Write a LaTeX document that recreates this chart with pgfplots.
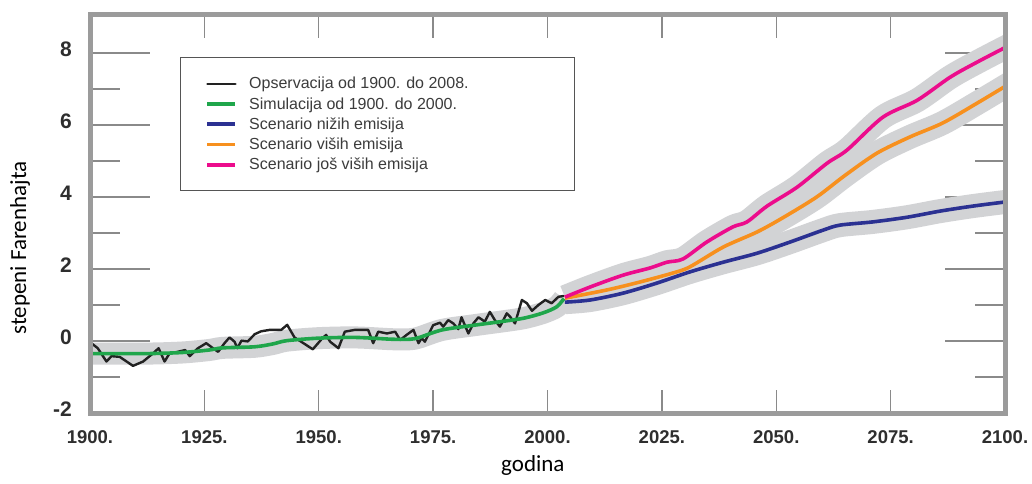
\documentclass[border=0pt]{standalone}
\usepackage{fontspec}
\setmainfont{Liberation Sans}
\newfontfamily\calibri{Carlito}
\usepackage{pgfplots}
\pgfplotsset{compat=1.18}

\definecolor{framegray}{HTML}{9B9B9B}
\definecolor{tickgray}{HTML}{8A8A8A}
\definecolor{bandgray}{HTML}{D2D3D5}
\definecolor{labelgray}{HTML}{2E2E2E}
\definecolor{legendtext}{HTML}{3C3C3C}
\definecolor{legendframe}{HTML}{555555}
\definecolor{obs}{HTML}{222222}
\definecolor{sim}{HTML}{1FA64B}
\definecolor{low}{HTML}{2B3192}
\definecolor{high}{HTML}{F7901E}
\definecolor{higher}{HTML}{EC0C8C}

\pgfplotsset{
    base/.style={
        at={(90pt,70pt)}, anchor=south west,
        scale only axis, width=915pt, height=398pt,
        xmin=1900, xmax=2100, ymin=-2, ymax=9.06,
        axis line style={draw=framegray, line width=5pt},
        tick style={draw=tickgray, line width=1.4pt},
        tick align=inside,
    },
}

\begin{document}
\begin{tikzpicture}
\useasboundingbox (0,0) rectangle (1032pt,483pt);

% x ticks and label
\begin{axis}[
    base,
    xtick={1900,1925,...,2100},
    xticklabels={1900.,1925.,1950.,1975.,2000.,2025.,2050.,2075.,2100.},
    ytick=\empty,
    major tick length=23pt,
    xticklabel style={font=\fontsize{18.5}{20}\selectfont\bfseries, text=labelgray, inner sep=0pt, yshift=-17pt},
    xlabel={godina},
    xlabel style={at={(axis description cs:0.484,-0.133)}, anchor=center, font=\calibri\fontsize{23}{26}\selectfont},
    ]
\end{axis}

% y ticks and label
\begin{axis}[
    base,
    xtick=\empty,
    ytick={-2,0,...,8},
    yticklabels={-2,0,2,4,6,8},
    minor ytick={-1,1,...,7},
    major tick length=60pt,
    minor tick length=30pt,
    yticklabel style={font=\fontsize{21}{22}\selectfont\bfseries, text=labelgray, inner sep=0pt, xshift=-18pt, yshift=4pt},
    ylabel={stepeni Farenhajta},
    ylabel style={at={(axis description cs:-0.0765,0.4146)}, anchor=center, font=\calibri\fontsize{23}{26}\selectfont},
    ]
\end{axis}

% data
\begin{axis}[
    base,
    hide axis,
    legend cell align=left,
    legend image code/.code={\draw[#1] (0pt,0pt) -- (28pt,0pt);},
    legend style={
        at={(axis description cs:0.0984,0.8945)}, anchor=north west,
        draw=legendframe, line width=1.2pt, fill=white,
        inner xsep=25pt, inner ysep=16pt,
        row sep=0pt, column sep=12pt,
        font=\fontsize{16}{17}\selectfont, text=legendtext,
        nodes={inner sep=0pt, minimum height=20.25pt},
    },
    ]
    % uncertainty bands
    \addplot[forget plot, bandgray, line width=22pt, line cap=butt, line join=round, smooth] coordinates {
        (1899,-0.35)(1912,-0.35)(1920,-0.32)(1926,-0.25)(1929,-0.19)(1936,-0.16)(1940,-0.08)
        (1943,0.01)(1950,0.08)(1958,0.10)(1966,0.05)(1970,0.05)(1972,0.10)(1977,0.31)
        (1984,0.44)(1991,0.56)(1995,0.64)(1999,0.78)(2002,0.95)(2003.6,1.18)
    };
    \addplot[forget plot, bandgray, line width=24pt, line cap=butt, line join=round, smooth] coordinates {
        (2003.8,1.08)(2009.3,1.14)(2016.5,1.33)(2023.9,1.61)(2031.1,1.92)(2038.4,2.19)
        (2045.8,2.44)(2053.0,2.75)(2060.2,3.08)(2063.9,3.22)(2071.1,3.31)(2078.6,3.44)
        (2085.8,3.61)(2093.0,3.75)(2101,3.88)
    };
    \addplot[forget plot, bandgray, line width=24pt, line cap=butt, line join=round, smooth] coordinates {
        (2003.8,1.19)(2013.0,1.42)(2020.2,1.64)(2027.4,1.89)(2031.1,2.06)(2038.4,2.61)
        (2045.8,3.03)(2051.5,3.43)(2058.8,4.00)(2065.0,4.60)(2072.0,5.22)(2079.2,5.67)
        (2086.4,6.06)(2093.9,6.61)(2101,7.15)
    };
    \addplot[forget plot, bandgray, line width=24pt, line cap=butt, line join=round, smooth] coordinates {
        (2003.8,1.22)(2009.3,1.50)(2016.5,1.83)(2022.4,2.03)(2026.1,2.19)(2029.6,2.28)
        (2034.8,2.75)(2040.5,3.17)(2043.6,3.31)(2048.0,3.75)(2054.5,4.27)(2061.1,4.94)
        (2065.5,5.31)(2073.3,6.22)(2080.8,6.69)(2088.0,7.33)(2093.9,7.75)(2101,8.22)
    };

    % observations
    \addplot[obs, line width=2.4pt, line join=round, line cap=round] coordinates {
        (1900.0,-0.04)(1900.3,-0.06)(1901.7,-0.20)(1903.6,-0.57)(1904.7,-0.42)(1906.5,-0.44)
        (1909.4,-0.69)(1911.6,-0.57)(1913.8,-0.34)(1915.0,-0.20)(1916.3,-0.57)(1917.4,-0.34)
        (1919.2,-0.30)(1920.8,-0.25)(1921.8,-0.42)(1923.6,-0.20)(1925.4,-0.06)(1926.9,-0.20)
        (1928.0,-0.30)(1929.4,-0.06)(1930.5,0.10)(1931.6,-0.02)(1932.2,-0.20)(1933.1,0.01)
        (1934.5,-0.01)(1936.0,0.19)(1937.4,0.27)(1939.3,0.31)(1941.8,0.31)(1943.1,0.45)
        (1944.7,0.10)(1946.9,-0.08)(1948.7,-0.23)(1950.6,0.05)(1951.6,0.17)(1952.5,-0.02)
        (1954.3,-0.20)(1955.7,0.26)(1957.9,0.31)(1960.8,0.31)(1961.9,-0.06)(1963.0,0.26)
        (1964.9,0.21)(1966.7,0.26)(1967.8,0.03)(1969.2,0.17)(1970.7,0.31)(1971.8,-0.06)
        (1972.5,0.08)(1973.2,-0.02)(1975.0,0.44)(1976.5,0.51)(1977.2,0.40)(1978.3,0.58)
        (1979.4,0.49)(1980.5,0.33)(1981.2,0.66)(1982.7,0.21)(1983.8,0.49)(1984.9,0.66)
        (1986.3,0.54)(1987.4,0.81)(1988.5,0.58)(1989.6,0.40)(1991.1,0.77)(1991.8,0.68)
        (1992.9,0.49)(1994.4,1.14)(1995.5,1.05)(1996.6,0.84)(1998.0,1.00)(1999.5,1.14)
        (2000.9,1.05)(2002.4,1.23)(2003.5,1.25)
    };
    \addlegendentry{\makebox[300pt][l]{Opservacija od 1900. do 2008.}}

    % simulation
    \addplot[sim, line width=3.6pt, smooth] coordinates {
        (1899,-0.35)(1912,-0.35)(1920,-0.32)(1926,-0.25)(1929,-0.19)(1936,-0.16)(1940,-0.08)
        (1943,0.01)(1950,0.08)(1958,0.10)(1966,0.05)(1970,0.05)(1972,0.10)(1977,0.31)
        (1984,0.44)(1991,0.56)(1995,0.64)(1999,0.78)(2002,0.95)(2003.6,1.18)
    };
    \addlegendentry{Simulacija od 1900. do 2000.}

    % lower emissions
    \addplot[low, line width=3.6pt, smooth] coordinates {
        (2003.8,1.08)(2009.3,1.14)(2016.5,1.33)(2023.9,1.61)(2031.1,1.92)(2038.4,2.19)
        (2045.8,2.44)(2053.0,2.75)(2060.2,3.08)(2063.9,3.22)(2071.1,3.31)(2078.6,3.44)
        (2085.8,3.61)(2093.0,3.75)(2101,3.88)
    };
    \addlegendentry{Scenario nižih emisija}

    % higher emissions
    \addplot[high, line width=3.6pt, smooth] coordinates {
        (2003.8,1.19)(2013.0,1.42)(2020.2,1.64)(2027.4,1.89)(2031.1,2.06)(2038.4,2.61)
        (2045.8,3.03)(2051.5,3.43)(2058.8,4.00)(2065.0,4.60)(2072.0,5.22)(2079.2,5.67)
        (2086.4,6.06)(2093.9,6.61)(2101,7.15)
    };
    \addlegendentry{Scenario viših emisija}

    % even higher emissions
    \addplot[higher, line width=3.6pt, smooth] coordinates {
        (2003.8,1.22)(2009.3,1.50)(2016.5,1.83)(2022.4,2.03)(2026.1,2.19)(2029.6,2.28)
        (2034.8,2.75)(2040.5,3.17)(2043.6,3.31)(2048.0,3.75)(2054.5,4.27)(2061.1,4.94)
        (2065.5,5.31)(2073.3,6.22)(2080.8,6.69)(2088.0,7.33)(2093.9,7.75)(2101,8.22)
    };
    \addlegendentry{Scenario još viših emisija}
\end{axis}

% frame on top
\begin{axis}[base, xtick=\empty, ytick=\empty]
\end{axis}
\end{tikzpicture}
\end{document}
